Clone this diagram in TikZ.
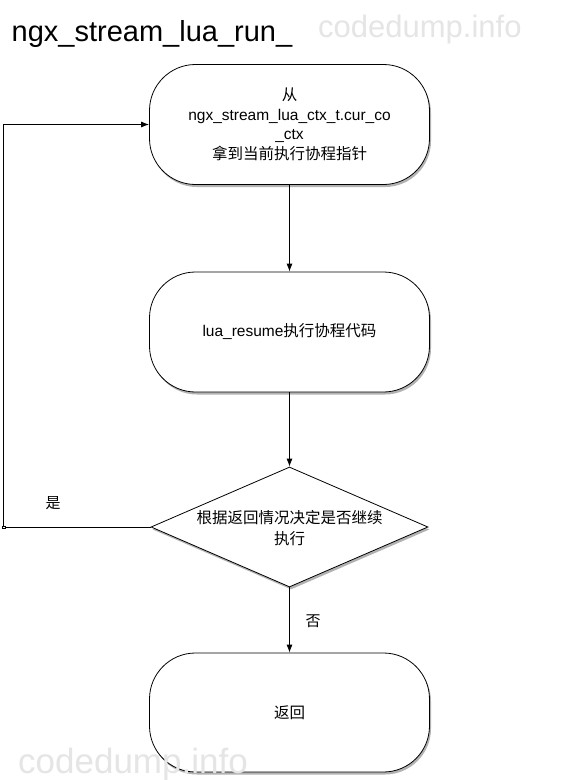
\documentclass[tikz,border=0pt]{standalone}
\usepackage{fontspec}
\setmainfont{Liberation Sans}
\newfontfamily\cjk{Noto Sans CJK SC}
\usetikzlibrary{shapes.geometric,arrows.meta,shadows}

\begin{document}
\begin{tikzpicture}[x=1pt,y=-1pt,
  shadowed/.style={drop shadow={shadow xshift=1.5pt,shadow yshift=-2.5pt,opacity=0.3,fill=black}},
  term/.style={draw=black,line width=0.8pt,fill=white,rounded corners=46pt,
    minimum width=280pt,minimum height=120pt,inner sep=0pt,align=center,
    font=\fontsize{15.5}{19.5}\selectfont,shadowed},
  decision/.style={draw=black,line width=0.8pt,fill=white,diamond,aspect=2.3,
    minimum width=277pt,minimum height=120pt,inner sep=0pt,shadowed},
  txt/.style={align=center,inner sep=0pt,font=\fontsize{15.5}{21}\selectfont},
  lbl/.style={inner sep=0pt,font=\fontsize{15}{18}\selectfont},
  arr/.style={draw=black,line width=0.8pt,-{Latex[length=8pt,width=6pt]}},
  wm/.style={anchor=base west,inner sep=0pt,text=gray!20}
]
\useasboundingbox[fill=white] (0,0) rectangle (572,780);

% title
\node[anchor=base west,inner sep=0pt,font=\fontsize{29}{34}\selectfont] (title) at (11.5,41.7) {ngx\_stream\_lua\_run\_};
\node[wm,font=\fontsize{31}{36}\selectfont] (wmtop) at (318,37.5) {codedump.info};

% nodes
\node[term] (b1) at (289.5,124.5) {{\cjk 从}\\ngx\_stream\_lua\_ctx\_t.cur\_co\\\_ctx\\{\cjk 拿到当前执行协程指针}};
\node[term] (b2) at (289.5,332) {lua\_resume{\cjk 执行协程代码}};
\node[decision] (d) at (289.5,527) {};
\node[txt] (dtext) at (289.5,528) {{\cjk 根据返回情况决定是否继续}\\{\cjk 执行}};
\node[term,minimum height=119pt] (b4) at (289.5,712.5) {{\cjk 返回}};

% connectors
\draw[arr] (b1.south) -- (b2.north);
\draw[arr] (b2.south) -- (d.north);
\draw[arr] (d.south) -- (b4.north);
\coordinate (lc) at (3.5,527);
\draw[arr] (d.west) -- (lc) |- (b1.west);
\draw[line width=0.5pt,fill=white] (2.2,525.8) rectangle (4.8,528.4);

% labels
\node[lbl] (yes) at (53,503) {\cjk 是};
\node[lbl] (no) at (313,621) {\cjk 否};

% watermark
\node[wm,font=\fontsize{35}{40}\selectfont] (wmbot) at (18,773) {codedump.info};
\end{tikzpicture}
\end{document}
